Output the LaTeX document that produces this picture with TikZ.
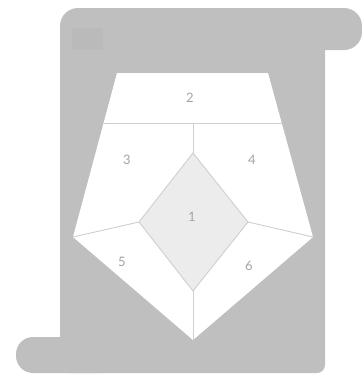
\documentclass[tikz,border=0pt]{standalone}
\usepackage{fontspec}
\setmainfont{Lato}
\usepackage{xcolor}
\usepackage{tikz}
\usetikzlibrary{calc, positioning}

\definecolor{scrollgray}{HTML}{BFBFBF}
\definecolor{patchgray}{HTML}{BABABA}
\definecolor{facegray}{HTML}{ECECEC}
\definecolor{seamgray}{HTML}{CFCFCF}
\definecolor{numgray}{HTML}{A4A4A4}

\begin{document}
\begin{tikzpicture}[
  x = 1pt, y = -1pt,
  roll/.style  = {fill=scrollgray},
  seam/.style  = {draw=seamgray, line width=0.9pt},
  num/.style   = {text=numgray, font=\fontsize{13}{13}\selectfont}
]
  \useasboundingbox (0,0) rectangle (362,376);

  % scroll
  \fill[roll, rounded corners=17pt] (16,337) rectangle (120,373);
  \fill[roll, rounded corners=18pt] (60,8) rectangle (362,50);
  \fill[roll, rounded corners=8pt]  (60,24) rectangle (325,373);
  \fill[patchgray] (72,28) rectangle (103,50);

  % outer pentagon
  \coordinate (tl) at (117,73);
  \coordinate (tr) at (268,73);
  \coordinate (rt) at (313,237);
  \coordinate (bt) at (193,340);
  \coordinate (lf) at (73,237);
  \fill[white] (tl) -- (tr) -- (rt) -- (bt) -- (lf) -- cycle;

  % inner diamond
  \coordinate (dt) at (193,153);
  \coordinate (dr) at (248,222);
  \coordinate (db) at (193,291);
  \coordinate (dl) at (139,222);
  \filldraw[seam, fill=facegray] (dt) -- (dr) -- (db) -- (dl) -- cycle;

  % seams
  \coordinate (hl) at ($(tl)!.305!(lf)$);
  \coordinate (hr) at ($(tr)!.305!(rt)$);
  \draw[seam] (hl) -- (hr);
  \draw[seam] (dt) -- (dt |- hl);
  \draw[seam] (dl) -- (lf);
  \draw[seam] (dr) -- (rt);
  \draw[seam] (db) -- (bt);

  % numbers
  \node[num] (n1) at (192,217) {1};
  \node[num] (n2) at (190,98)  {2};
  \node[num] (n3) at (127,160) {3};
  \node[num] (n4) at (252,160) {4};
  \node[num] (n5) at (122,262) {5};
  \node[num] (n6) at (249,266) {6};
\end{tikzpicture}
\end{document}
